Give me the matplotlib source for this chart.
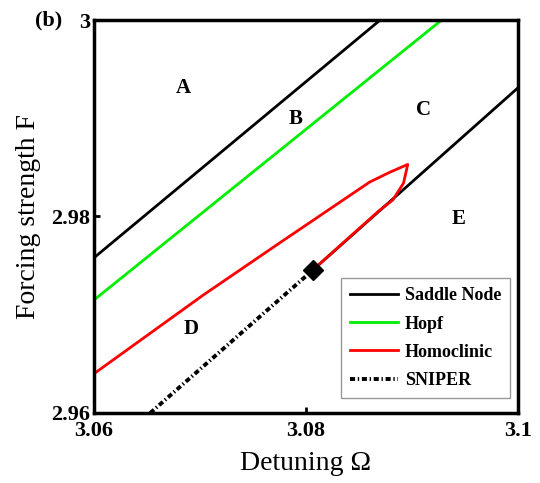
import matplotlib.pyplot as plt
import numpy as np

plt.rcParams['font.family'] = ['Liberation Serif', 'DejaVu Serif']

# saddle-node branches (detuning, forcing)
sn_left_x = [3.06, 3.0870]
sn_left_y = [2.9758, 3.0]
sn_right_x = [3.0807, 3.1]
sn_right_y = [2.9746, 2.9931]

hopf_x = [3.06, 3.0928]
hopf_y = [2.9715, 3.0]

homo_x = [3.06, 3.0703, 3.0775, 3.0860, 3.0879, 3.0896, 3.0892, 3.0882, 3.0868, 3.0811]
homo_y = [2.9640, 2.9720, 2.9773, 2.9835, 2.9845, 2.9853, 2.9834, 2.9817, 2.9805, 2.9750]

sniper_x = [3.0653, 3.0807]
sniper_y = [2.96, 2.9746]
bt_x, bt_y = 3.0807, 2.9746

regions = ['A', 'B', 'C', 'D', 'E']
reg_x = [3.0684, 3.0790, 3.0911, 3.0692, 3.0944]
reg_y = [2.9931, 2.9899, 2.9908, 2.9685, 2.9797]

fig = plt.figure(figsize=(5.4, 4.83), dpi=100)
ax = fig.add_axes([94/540, 70/483, 424/540, 393/483])

ax.plot(sn_left_x, sn_left_y, 'k', lw=2.0, label='Saddle Node')
ax.plot(sn_right_x, sn_right_y, 'k', lw=2.0)
ax.plot(hopf_x, hopf_y, color='#00ee00', lw=2.0, label='Hopf')
ax.plot(homo_x, homo_y, color='#ff0000', lw=2.0, label='Homoclinic')
ax.plot(sniper_x, sniper_y, 'k', lw=2.8, dashes=(1.3, 0.7, 0.35, 0.7), label='SNIPER')
ax.plot([bt_x], [bt_y], 'kD', ms=10)

for lab, x, y in zip(regions, reg_x, reg_y):
    ax.text(x, y, lab, fontsize=15, fontweight='bold', ha='center', va='center')

ax.set_xlim(3.06, 3.1)
ax.set_ylim(2.96, 3.0)
ax.set_xticks([3.06, 3.08, 3.1])
ax.set_xticklabels(['3.06', '3.08', '3.1'])
ax.set_yticks([2.96, 2.98, 3.0])
ax.set_yticklabels(['2.96', '2.98', '3'])
ax.tick_params(direction='in', length=4, width=2, labelsize=16, pad=3)
ax.tick_params(axis='x', pad=6)
for t in ax.get_xticklabels() + ax.get_yticklabels():
    t.set_fontweight('bold')
for s in ax.spines.values():
    s.set_linewidth(2.5)

ax.set_xlabel('Detuning Ω', fontsize=20, labelpad=7)
ax.set_ylabel('Forcing strength F', fontsize=20, labelpad=7)
fig.text(35/540, 1 - 20/483, '(b)', fontsize=16, fontweight='bold', va='center')

leg = ax.legend(loc='lower right', bbox_to_anchor=(1 - 8/424, 15/393),
                prop={'weight': 'bold', 'size': 13},
                fancybox=False, edgecolor='gray', handlelength=2.7,
                borderaxespad=0, labelspacing=0.62, borderpad=0.5,
                handletextpad=0.35)
leg.get_frame().set_linewidth(1.0)

fig.savefig('out.png', dpi=100)
